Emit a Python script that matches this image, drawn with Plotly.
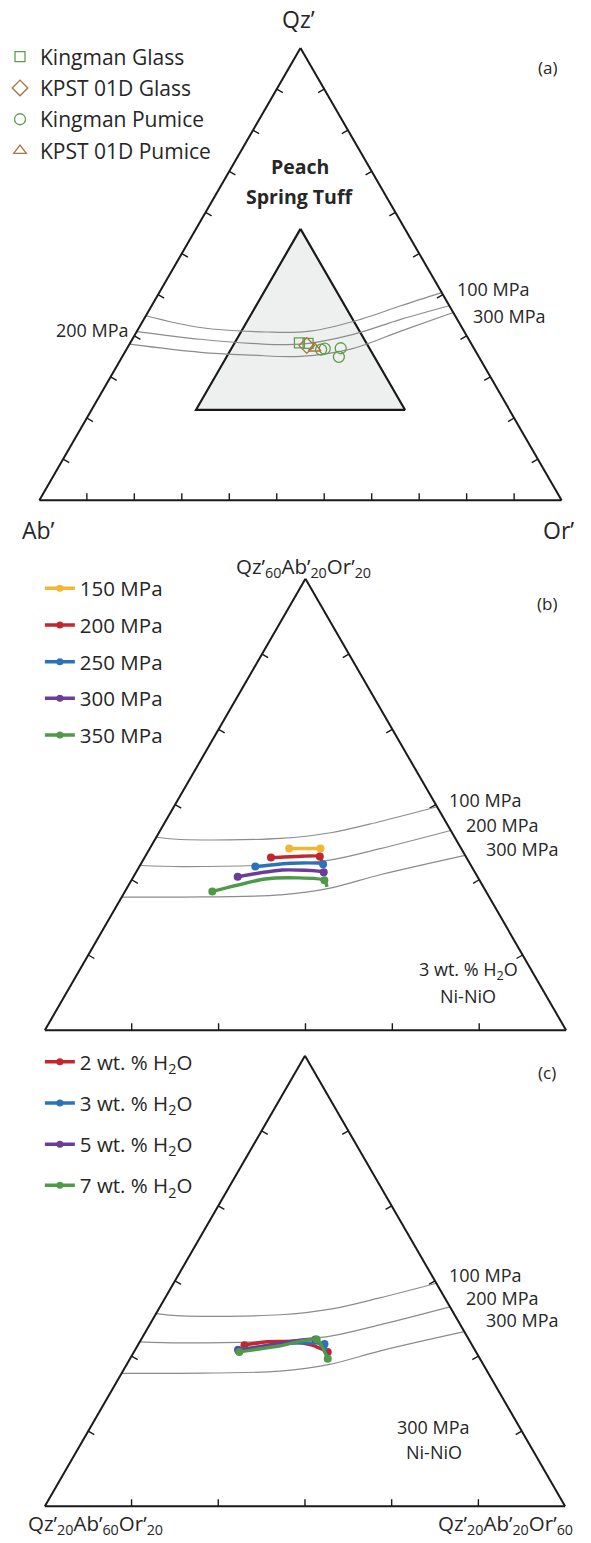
import plotly.graph_objects as go

FIG_W, FIG_H = 591, 1543

# ---------------- data ----------------
# Panel (a): normative Qz'-Ab'-Or' (wt.%), Ab' = 100 - Qz' - Or'
iso_a_100_qz = [40.8, 38.2, 37.2, 37.4, 40.0, 43.0, 45.9]
iso_a_100_or = [0.0, 11.7, 25.0, 33.2, 41.5, 47.7, 54.1]
iso_a_200_qz = [37.3, 35.6, 34.7, 34.5, 36.5, 40.0, 43.0]
iso_a_200_or = [0.0, 13.0, 23.1, 32.8, 41.3, 49.2, 57.0]
iso_a_300_qz = [34.5, 32.7, 32.1, 31.8, 33.4, 37.4, 41.5]
iso_a_300_or = [0.0, 14.5, 24.4, 34.1, 42.9, 50.5, 58.5]

kingman_glass_qz = [34.8, 34.7]
kingman_glass_or = [32.4, 34.1]
kpst_glass_qz = [34.2]
kpst_glass_or = [34.1]
kingman_pumice_qz = [33.3, 33.5, 33.6, 31.7]
kingman_pumice_or = [37.3, 37.9, 40.9, 41.5]
kpst_pumice_qz = [33.6]
kpst_pumice_or = [35.9]

# Sub-triangle Qz'60Ab'20Or'20 - Qz'20Ab'60Or'20 - Qz'20Ab'20Or'60
subtri_qz = [60, 20, 20, 60]
subtri_or = [20, 20, 60, 20]

# Haplogranite isobars inside the sub-triangle (panels b and c)
iso_s_100_qz = [37.1, 36.9, 37.0, 37.5, 38.5, 39.8]
iso_s_100_or = [20.0, 22.0, 29.6, 33.2, 36.5, 40.2]
iso_s_200_qz = [34.6, 34.5, 34.7, 35.1, 36.1, 37.7]
iso_s_200_or = [20.0, 23.3, 30.8, 34.4, 37.7, 42.3]
iso_s_300_qz = [31.8, 31.8, 32.0, 32.6, 33.8, 35.5]
iso_s_300_or = [20.0, 24.6, 32.1, 35.6, 38.9, 44.5]

# Panel (b): melt paths at 3 wt.% H2O, Ni-NiO, for several pressures
p150_qz = [36.1, 36.1]
p150_or = [30.7, 33.1]
p200_qz = [35.3, 35.4, 35.4, 34.9]
p200_or = [29.7, 31.6, 33.4, 33.8]
p250_qz = [34.5, 34.8, 34.7, 34.4]
p250_or = [28.9, 31.5, 34.0, 34.2]
p300_qz = [33.6, 34.2, 34.0, 33.7]
p300_or = [28.0, 31.1, 34.4, 34.6]
p350_qz = [32.3, 33.4, 33.5, 33.3, 32.7]
p350_or = [26.7, 30.2, 32.6, 34.8, 35.3]
p_labels = ["150 MPa", "200 MPa", "250 MPa", "300 MPa", "350 MPa"]
p_marked = [[0, 1], [0, 2], [0, 2], [0, 2], [0, 3]]

# Panel (c): melt paths at 300 MPa, Ni-NiO, for several water contents
w2_qz = [34.3, 34.6, 34.6, 34.3, 33.7]
w2_or = [28.2, 29.8, 31.6, 33.4, 34.9]
w3_qz = [33.9, 34.3, 34.5, 34.4, 33.8]
w3_or = [27.9, 30.3, 32.5, 34.3, 34.7]
w5_qz = [33.8, 34.4, 34.8, 33.3]
w5_or = [28.0, 30.6, 33.4, 35.1]
w7_qz = [33.7, 34.2, 34.8, 33.1]
w7_or = [28.1, 30.8, 33.5, 35.2]
w_labels = ["2 wt. % H<sub>2</sub>O", "3 wt. % H<sub>2</sub>O",
            "5 wt. % H<sub>2</sub>O", "7 wt. % H<sub>2</sub>O"]
w_marked = [[0, 4], [0, 3], [0, 2], [0, 2, 3]]

# ---------------- styling ----------------
FONT = "Open Sans"
TXT = "#262626"
AXC = "#1a1a1a"
ISO_C = "#8c8c8c"
GREEN = "#5e9e4c"
BROWN = "#a8743f"
P_COLORS = ["#f2b630", "#c1272d", "#2b73b9", "#6b3c99", "#4f9a48"]
W_COLORS = ["#c1272d", "#2b73b9", "#6b3c99", "#4f9a48"]
S3 = 3 ** 0.5


def ab(qz, orr):
    return [100 - q - o for q, o in zip(qz, orr)]


def px(x, y):
    return x / FIG_W, 1 - y / FIG_H


def tri_domain(x_left, x_right, y_base):
    h = (x_right - x_left) * S3 / 2
    return dict(x=[x_left / FIG_W, x_right / FIG_W],
                y=[1 - y_base / FIG_H, 1 - (y_base - h) / FIG_H])


def tern_axis(lo):
    return dict(min=lo, showline=True, linecolor=AXC, linewidth=2, ticks="",
                showticklabels=False, showgrid=False, title=dict(text=""),
                layer="above traces")


fig = go.Figure()


def tline(sub, qz, orr, color, width, smooth=1.0):
    fig.add_trace(go.Scatterternary(
        a=qz, b=ab(qz, orr), c=orr, subplot=sub, mode="lines",
        line=dict(color=color, width=width, shape="spline", smoothing=smooth),
        showlegend=False, hoverinfo="skip"))


def add_ticks(sub, lo, n_div, length):
    """Inward tick marks, perpendicular to each side, at equal divisions."""
    span = 100 - 3 * lo
    d1, d2 = length / S3, 2 * length / S3
    A, B, C = [], [], []
    for k in range(1, n_div):
        t = lo + span * k / n_div
        # left side (Or' = lo), base (Qz' = lo), right side (Ab' = lo)
        for (a0, b0, c0), (da, db, dc) in [
            ((t, 100 - t - lo, lo), (-d1, -d1, d2)),
            ((lo, 100 - t - lo, t), (d2, -d1, -d1)),
            ((t, lo, 100 - t - lo), (-d1, d2, -d1)),
        ]:
            A += [a0, a0 + da, None]
            B += [b0, b0 + db, None]
            C += [c0, c0 + dc, None]
    fig.add_trace(go.Scatterternary(
        a=A, b=B, c=C, subplot=sub, mode="lines", line=dict(color=AXC, width=1.4),
        showlegend=False, hoverinfo="skip", connectgaps=False))


# ---- panel (a) ----
fig.add_trace(go.Scatterternary(
    a=subtri_qz, b=ab(subtri_qz, subtri_or), c=subtri_or, subplot="ternary",
    mode="lines", fill="toself", fillcolor="#eef0ef",
    line=dict(color=AXC, width=2.2), showlegend=False, hoverinfo="skip"))
add_ticks("ternary", 0, 11, 1.35)
for q, o in [(iso_a_100_qz, iso_a_100_or), (iso_a_200_qz, iso_a_200_or),
             (iso_a_300_qz, iso_a_300_or)]:
    tline("ternary", q, o, ISO_C, 1.2)

samples = [
    ("Kingman Glass", kingman_glass_qz, kingman_glass_or, "square-open", GREEN, 10),
    ("KPST 01D Glass", kpst_glass_qz, kpst_glass_or, "diamond-open", BROWN, 12),
    ("Kingman Pumice", kingman_pumice_qz, kingman_pumice_or, "circle-open", GREEN, 11),
    ("KPST 01D Pumice", kpst_pumice_qz, kpst_pumice_or, "triangle-up-open", BROWN, 11),
]
for name, q, o, sym, col, sz in samples:
    fig.add_trace(go.Scatterternary(
        a=q, b=ab(q, o), c=o, subplot="ternary", mode="markers", name=name,
        marker=dict(symbol=sym, size=sz, color=col, line=dict(color=col, width=1.3)),
        legend="legend", legendgroup=name))

# ---- panels (b) and (c) ----
for sub in ("ternary2", "ternary3"):
    add_ticks(sub, 20, 6, 0.54)
    for q, o in [(iso_s_100_qz, iso_s_100_or), (iso_s_200_qz, iso_s_200_or),
                 (iso_s_300_qz, iso_s_300_or)]:
        tline(sub, q, o, ISO_C, 1.2)


def add_paths(sub, leg, series, labels, colors, marked):
    for (q, o), name, col, idx in zip(series, labels, colors, marked):
        tline(sub, q, o, col, 3.4, smooth=0.6)
        mq = [q[i] for i in idx]
        mo = [o[i] for i in idx]
        fig.add_trace(go.Scatterternary(
            a=mq, b=ab(mq, mo), c=mo, subplot=sub, mode="markers",
            marker=dict(size=8, color=col), showlegend=False, hoverinfo="skip"))
        fig.add_trace(go.Scatterternary(
            a=[None], b=[None], c=[None], subplot=sub, mode="lines+markers",
            name=name, line=dict(color=col, width=3.5),
            marker=dict(size=7, color=col), legend=leg, legendgroup=leg + name))


add_paths("ternary2", "legend2",
          [(p150_qz, p150_or), (p200_qz, p200_or), (p250_qz, p250_or),
           (p300_qz, p300_or), (p350_qz, p350_or)],
          p_labels, P_COLORS, p_marked)
add_paths("ternary3", "legend3",
          [(w2_qz, w2_or), (w3_qz, w3_or), (w5_qz, w5_or), (w7_qz, w7_or)],
          w_labels, W_COLORS, w_marked)

# ---------------- layout ----------------
ann = []


def text(x, y, s, size, anchor="center", bold=False):
    X, Y = px(x, y)
    ann.append(dict(x=X, y=Y, xref="paper", yref="paper", text=f"<b>{s}</b>" if bold else s,
                    showarrow=False, xanchor=anchor, yanchor="middle",
                    font=dict(family=FONT, size=size, color=TXT)))


# panel (a)
text(298, 19, "Qz’", 23)
text(37, 530, "Ab’", 23)
text(558, 530, "Or’", 23)
text(547, 67, "(a)", 17)
text(299, 167, "Peach", 19.5, bold=True)
text(299, 197, "Spring Tuff", 19.5, bold=True)
text(129, 330, "200 MPa", 18, anchor="right")
text(455, 289, "100 MPa", 18, anchor="left")
text(471, 316, "300 MPa", 18, anchor="left")
# panel (b)
text(303, 567, "Qz’<sub>60</sub>Ab’<sub>20</sub>Or’<sub>20</sub>", 20.5)
text(547, 603, "(b)", 17)
text(447, 800, "100 MPa", 18, anchor="left")
text(464, 825, "200 MPa", 18, anchor="left")
text(484, 849, "300 MPa", 18, anchor="left")
text(468, 970, "3 wt. % H<sub>2</sub>O", 18)
text(468, 996, "Ni-NiO", 18)
# panel (c)
text(547, 1072, "(c)", 17)
text(447, 1275, "100 MPa", 18, anchor="left")
text(464, 1298, "200 MPa", 18, anchor="left")
text(484, 1320, "300 MPa", 18, anchor="left")
text(433, 1427, "300 MPa", 18)
text(433, 1452, "Ni-NiO", 18)
text(94, 1524, "Qz’<sub>20</sub>Ab’<sub>60</sub>Or’<sub>20</sub>", 20.5)
text(505, 1524, "Qz’<sub>20</sub>Ab’<sub>20</sub>Or’<sub>60</sub>", 20.5)


def legend_at(x, y, size, gap):
    X, Y = px(x, y)
    return dict(x=X, y=Y, xanchor="left", yanchor="top", bgcolor="rgba(0,0,0,0)",
                font=dict(family=FONT, size=size, color=TXT), tracegroupgap=gap,
                itemwidth=30, borderwidth=0)


fig.update_layout(
    width=FIG_W, height=FIG_H,
    margin=dict(l=0, r=0, t=0, b=0),
    paper_bgcolor="white", plot_bgcolor="white",
    font=dict(family=FONT, color=TXT),
    ternary=dict(domain=tri_domain(37.5, 561.5, 501), sum=100, bgcolor="rgba(0,0,0,0)",
                 aaxis=tern_axis(0), baxis=tern_axis(0), caxis=tern_axis(0)),
    ternary2=dict(domain=tri_domain(43, 566, 1031), sum=100, bgcolor="rgba(0,0,0,0)",
                  aaxis=tern_axis(20), baxis=tern_axis(20), caxis=tern_axis(20)),
    ternary3=dict(domain=tri_domain(43, 565, 1507), sum=100, bgcolor="rgba(0,0,0,0)",
                  aaxis=tern_axis(20), baxis=tern_axis(20), caxis=tern_axis(20)),
    legend=legend_at(-2, 36.5, 21, 1),
    legend2=legend_at(38, 568.5, 20.5, 7),
    legend3=legend_at(38, 1042, 20.5, 11.5),
    annotations=ann,
    showlegend=True,
)

fig.write_html("out.html")
